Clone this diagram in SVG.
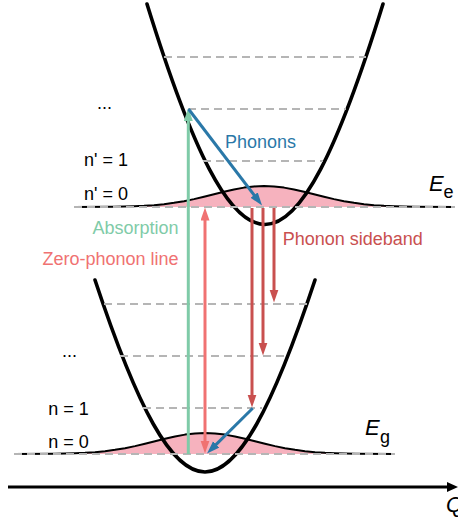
<svg xmlns="http://www.w3.org/2000/svg" width="458" height="518" viewBox="0 0 458 518">
<style>
.well{fill:none;stroke:#000;stroke-width:3.6;stroke-linecap:round}
.wf{fill:none;stroke:#000;stroke-width:2;stroke-linejoin:round}
.wffill{fill:#f6b2be;stroke:none}
.lvl{stroke:#b5b5b5;stroke-width:2.2;stroke-dasharray:8 5;fill:none}
.arr{fill:none;stroke-width:3}
.t{font-family:"Liberation Sans",Arial,Helvetica,sans-serif;font-size:18px}
.e{font-family:"Liberation Sans",Arial,Helvetica,sans-serif;font-style:italic;font-size:22px}
</style>
<defs>
<marker id="hGreen" markerUnits="userSpaceOnUse" markerWidth="14" markerHeight="10" refX="5" refY="4.5" orient="auto"><path d="M0,0 L13,4.5 L0,9 z" fill="#7fcba8"/></marker>
<marker id="hBlue" markerUnits="userSpaceOnUse" markerWidth="14" markerHeight="10" refX="5" refY="4.5" orient="auto"><path d="M0,0 L13,4.5 L0,9 z" fill="#2a78a8"/></marker>
<marker id="hSalmon" markerUnits="userSpaceOnUse" markerWidth="14" markerHeight="10" refX="5" refY="4.5" orient="auto-start-reverse"><path d="M0,0 L13,4.5 L0,9 z" fill="#f07272"/></marker>
<marker id="hRed" markerUnits="userSpaceOnUse" markerWidth="14" markerHeight="10" refX="5" refY="4.5" orient="auto"><path d="M0,0 L13,4.5 L0,9 z" fill="#c9504f"/></marker>
<marker id="hBlack" markerUnits="userSpaceOnUse" markerWidth="12" markerHeight="11" refX="2" refY="5" orient="auto"><path d="M0,0 L11,5 L0,10 z" fill="#000"/></marker>
</defs>

<g id="wavefunction-excited">
<path class="wffill" d="M114,207 L114,206.77 L124,206.58 L134,206.28 L144,205.82 L154,205.13 L164,204.16 L174,202.84 L184,201.16 L194,199.12 L204,196.78 L214,194.26 L224,191.75 L234,189.46 L244,187.61 L254,186.42 L264,186 L274,186.42 L284,187.61 L294,189.46 L304,191.75 L314,194.26 L324,196.78 L334,199.12 L344,201.16 L354,202.84 L364,204.16 L374,205.13 L384,205.82 L394,206.28 L404,206.58 L414,206.77 L414,207 z"/>
<path class="wf" d="M74,207 L114,206.77 L124,206.58 L134,206.28 L144,205.82 L154,205.13 L164,204.16 L174,202.84 L184,201.16 L194,199.12 L204,196.78 L214,194.26 L224,191.75 L234,189.46 L244,187.61 L254,186.42 L264,186 L274,186.42 L284,187.61 L294,189.46 L304,191.75 L314,194.26 L324,196.78 L334,199.12 L344,201.16 L354,202.84 L364,204.16 L374,205.13 L384,205.82 L394,206.28 L404,206.58 L414,206.77 L455,207"/>
</g>
<g id="wavefunction-ground">
<path class="wffill" d="M55,454 L55,453.77 L65,453.58 L75,453.28 L85,452.82 L95,452.13 L105,451.16 L115,449.84 L125,448.16 L135,446.12 L145,443.78 L155,441.26 L165,438.75 L175,436.46 L185,434.61 L195,433.42 L205,433 L215,433.42 L225,434.61 L235,436.46 L245,438.75 L255,441.26 L265,443.78 L275,446.12 L285,448.16 L295,449.84 L305,451.16 L315,452.13 L325,452.82 L335,453.28 L345,453.58 L355,453.77 L355,454 z"/>
<path class="wf" d="M14,454 L55,453.77 L65,453.58 L75,453.28 L85,452.82 L95,452.13 L105,451.16 L115,449.84 L125,448.16 L135,446.12 L145,443.78 L155,441.26 L165,438.75 L175,436.46 L185,434.61 L195,433.42 L205,433 L215,433.42 L225,434.61 L235,436.46 L245,438.75 L255,441.26 L265,443.78 L275,446.12 L285,448.16 L295,449.84 L305,451.16 L315,452.13 L325,452.82 L335,453.28 L345,453.58 L355,453.77 L395,454"/>
</g>

<g id="well-excited"><path class="well" d="M147,4 C238,298 292,298 383,4"/></g>
<g id="well-ground"><path class="well" d="M95,280 C180,536 230,536 315,280"/></g>

<g id="levels-excited">
<line class="lvl" x1="164" y1="57" x2="366" y2="57"/>
<line class="lvl" x1="188" y1="109" x2="346" y2="109"/>
<line class="lvl" x1="203" y1="161" x2="323" y2="161"/>
<line class="lvl" x1="74" y1="207" x2="455" y2="207"/>
</g>
<g id="levels-ground">
<line class="lvl" x1="104" y1="304" x2="307" y2="304"/>
<line class="lvl" x1="120" y1="356" x2="287" y2="356"/>
<line class="lvl" x1="143" y1="408" x2="262" y2="408"/>
<line class="lvl" x1="14" y1="454" x2="395" y2="454"/>
</g>

<g id="axis">
<line x1="8" y1="487" x2="449" y2="487" stroke="#000" stroke-width="3.2" marker-end="url(#hBlack)"/>
<text class="e" x="446" y="512" font-size="21">Q</text>
</g>

<g id="connectors">
<line class="arr" stroke="#7fcba8" x1="188.3" y1="454" x2="188.3" y2="116" marker-end="url(#hGreen)"/>
<line class="arr" stroke="#2a78a8" x1="188.5" y1="109" x2="257.2" y2="199.1" marker-end="url(#hBlue)"/>
<line class="arr" stroke="#f07272" x1="205" y1="215.5" x2="205" y2="445.5" marker-start="url(#hSalmon)" marker-end="url(#hSalmon)"/>
<line class="arr" stroke="#c9504f" x1="274" y1="208" x2="274" y2="294.5" marker-end="url(#hRed)"/>
<line class="arr" stroke="#c9504f" x1="263" y1="208" x2="263" y2="347.5" marker-end="url(#hRed)"/>
<line class="arr" stroke="#c9504f" x1="252" y1="208" x2="252" y2="399.5" marker-end="url(#hRed)"/>
<line class="arr" stroke="#2a78a8" x1="252.7" y1="408.3" x2="212.7" y2="447.9" marker-end="url(#hBlue)"/>
</g>

<g id="labels">
<text class="t" x="97" y="108.5">...</text>
<text class="t" x="84" y="165.7">n' = 1</text>
<text class="t" x="84" y="200">n' = 0</text>
<text class="t" x="62" y="357">...</text>
<text class="t" x="48.3" y="414.7">n = 1</text>
<text class="t" x="48.3" y="448">n = 0</text>
<text class="t" x="225" y="147.7" fill="#2a78a8">Phonons</text>
<text class="t" x="178.5" y="234.3" fill="#7fcba8" text-anchor="end">Absorption</text>
<text class="t" x="178.5" y="265" fill="#f07272" text-anchor="end">Zero-phonon line</text>
<text class="t" x="282.7" y="245" fill="#c9504f">Phonon sideband</text>
<text x="429" y="190.5"><tspan class="e">E</tspan><tspan class="t" x="443.5" y="198">e</tspan></text>
<text x="365" y="435"><tspan class="e">E</tspan><tspan class="t" x="380" y="443">g</tspan></text>
</g>
</svg>
